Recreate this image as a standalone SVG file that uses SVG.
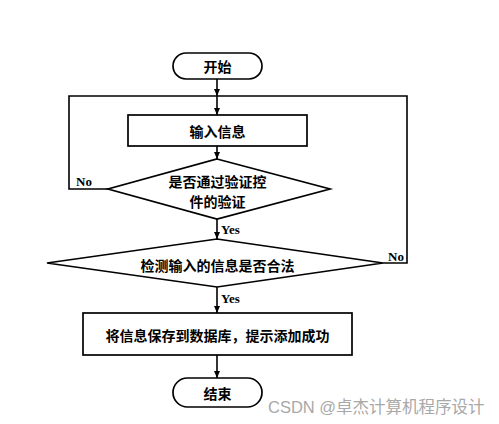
<svg xmlns="http://www.w3.org/2000/svg" width="499" height="424" viewBox="0 0 499 424">
<style>
.shape{fill:#fff;stroke:#000;stroke-width:1.7}
.ln{fill:none;stroke:#000;stroke-width:1.6}
.t{font-family:"Noto Sans CJK SC","Noto Sans",sans-serif;font-weight:bold;font-size:14px;fill:#000;text-anchor:middle;dominant-baseline:central}
.lb{font-family:"Liberation Serif",serif;font-weight:bold;font-size:13px;fill:#000}
.wm{font-family:"Liberation Sans","Noto Sans CJK SC",sans-serif;font-size:16.5px;fill:#a8a8a8}
</style>
<defs>
<marker id="ah" markerWidth="8" markerHeight="8" refX="7" refY="4" orient="auto" markerUnits="userSpaceOnUse">
<path d="M0,1 L7,4 L0,7 Z" fill="#000"/>
</marker>
</defs>
<rect width="499" height="424" fill="#fff"/>
<g id="connectors">
<path class="ln" d="M217,79 V96" marker-end="url(#ah)"/>
<path class="ln" d="M217,96 V115" marker-end="url(#ah)"/>
<path class="ln" d="M217,146 V159" marker-end="url(#ah)"/>
<path class="ln" d="M217,219 V239" marker-end="url(#ah)"/>
<path class="ln" d="M217,287 V313" marker-end="url(#ah)"/>
<path class="ln" d="M217,355 V378" marker-end="url(#ah)"/>
<path class="ln" d="M108,189 H69 V96 H407 V263 H383"/>
<text class="lb" x="76" y="186">No</text>
<text class="lb" x="221" y="234">Yes</text>
<text class="lb" x="388" y="261">No</text>
<text class="lb" x="221" y="303">Yes</text>
</g>
<g id="start">
<rect class="shape" x="173" y="53" width="89" height="26" rx="13"/>
<text class="t" x="217.5" y="66">开始</text>
</g>
<g id="input">
<rect class="shape" x="128" y="115" width="179" height="31"/>
<text class="t" x="217.5" y="130.5">输入信息</text>
</g>
<g id="check1">
<polygon class="shape" points="217,159 330,189 217,219 108,189"/>
<text class="t" x="217.5" y="181">是否通过验证控</text>
<text class="t" x="217.5" y="201">件的验证</text>
</g>
<g id="check2">
<polygon class="shape" points="217,239 383,263 217,287 47,263"/>
<text class="t" x="217.5" y="265">检测输入的信息是否合法</text>
</g>
<g id="save">
<rect class="shape" x="83" y="313" width="269" height="42"/>
<text class="t" x="217.5" y="335">将信息保存到数据库，提示添加成功</text>
</g>
<g id="end">
<rect class="shape" x="173" y="378" width="89" height="29" rx="14.5"/>
<text class="t" x="217.5" y="392.5">结束</text>
</g>
<text class="wm" x="268" y="413">CSDN @卓杰计算机程序设计</text>
</svg>
